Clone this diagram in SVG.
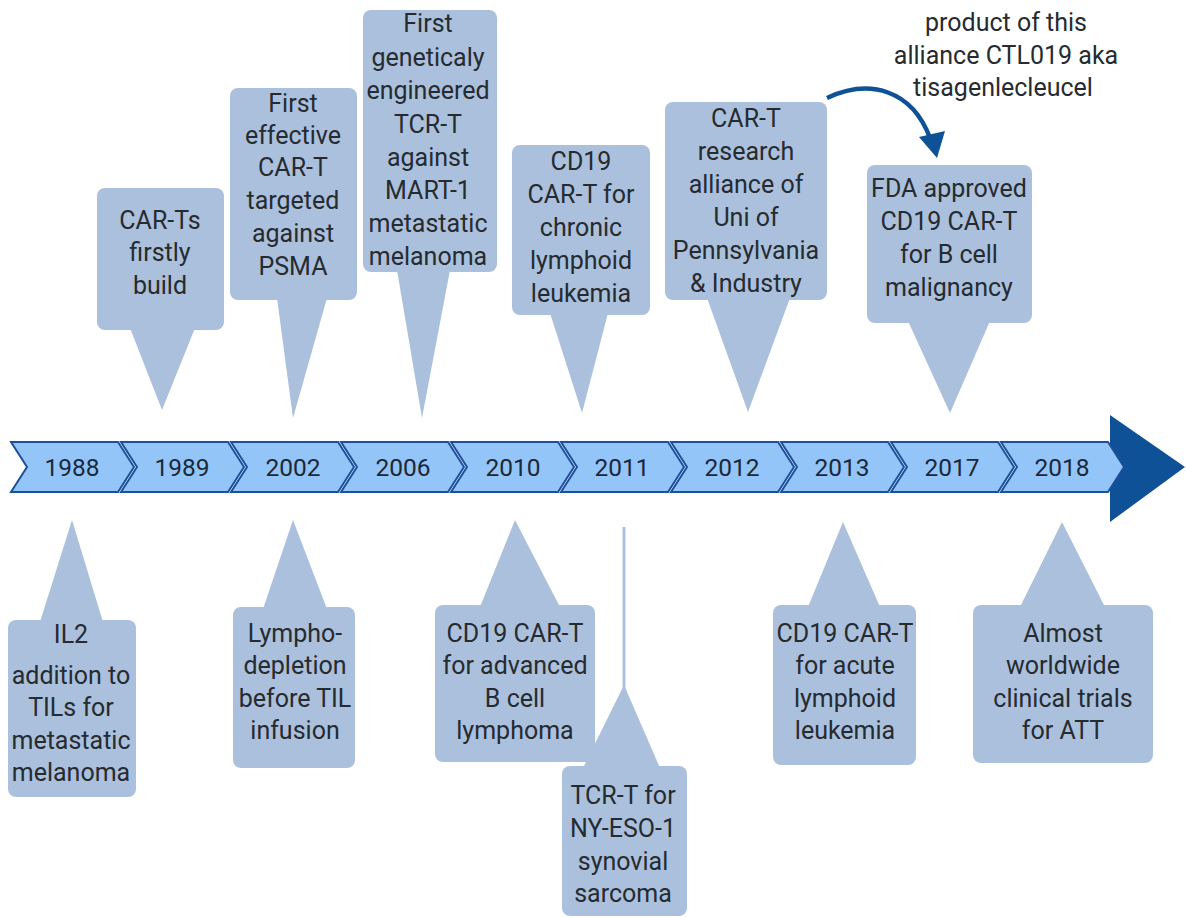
<svg xmlns="http://www.w3.org/2000/svg" width="1186" height="918" viewBox="0 0 1186 918">
<defs>
<style>
.call{fill:#abc0dc}
.t{font-family:Roboto,"Liberation Sans",sans-serif;font-size:25px;fill:#262b30;text-anchor:middle}
.yr{font-family:Roboto,"Liberation Sans",sans-serif;font-size:24.5px;fill:#1c2838;text-anchor:middle}
.chev{fill:#93c5f8;stroke:#1d4f9c;stroke-width:2;stroke-linejoin:miter}
.note{font-family:Roboto,"Liberation Sans",sans-serif;font-size:25px;fill:#262b30;text-anchor:middle}
</style>
</defs>
<rect width="1186" height="918" fill="#ffffff"/>

<g id="timeline">
<polygon points="1110,415 1185,467 1110,522" fill="#0f5196"/>
<polygon class="chev" points="11,442 118,442 134,467 118,492 11,492 27,467"/>
<polygon class="chev" points="121,442 228,442 244,467 228,492 121,492 137,467"/>
<polygon class="chev" points="231,442 338,442 354,467 338,492 231,492 247,467"/>
<polygon class="chev" points="341,442 448,442 464,467 448,492 341,492 357,467"/>
<polygon class="chev" points="451,442 558,442 574,467 558,492 451,492 467,467"/>
<polygon class="chev" points="561,442 668,442 684,467 668,492 561,492 577,467"/>
<polygon class="chev" points="671,442 778,442 794,467 778,492 671,492 687,467"/>
<polygon class="chev" points="781,442 888,442 904,467 888,492 781,492 797,467"/>
<polygon class="chev" points="891,442 998,442 1014,467 998,492 891,492 907,467"/>
<polygon class="chev" points="1001,442 1108,442 1124,467 1108,492 1001,492 1017,467"/>
<text class="yr" x="72" y="476">1988</text>
<text class="yr" x="182" y="476">1989</text>
<text class="yr" x="293" y="476">2002</text>
<text class="yr" x="403" y="476">2006</text>
<text class="yr" x="513" y="476">2010</text>
<text class="yr" x="622" y="476">2011</text>
<text class="yr" x="732" y="476">2012</text>
<text class="yr" x="842" y="476">2013</text>
<text class="yr" x="952" y="476">2017</text>
<text class="yr" x="1062" y="476">2018</text>
</g>

<g id="connectors">
<line x1="624" y1="527" x2="624" y2="690" stroke="#abc0dc" stroke-width="3"/>
<path d="M827,98 C870,78 912,90 930,138" fill="none" stroke="#0f5196" stroke-width="4.5"/>
<polygon points="919,137 945,131 937,158" fill="#0f5196"/>
</g>

<g id="n1989">
<rect class="call" x="97" y="188" width="127" height="142" rx="8"/>
<polygon class="call" points="130,328 195,328 162,410"/>
<text class="t" x="160" y="229">CAR-Ts</text>
<text class="t" x="160" y="261">firstly</text>
<text class="t" x="160" y="294">build</text>
</g>

<g id="n2002top">
<rect class="call" x="230" y="88" width="127" height="212" rx="8"/>
<polygon class="call" points="277,298 327,298 293,418"/>
<text class="t" x="293" y="112">First</text>
<text class="t" x="293" y="144">effective</text>
<text class="t" x="293" y="176">CAR-T</text>
<text class="t" x="293" y="209">targeted</text>
<text class="t" x="293" y="242">against</text>
<text class="t" x="293" y="275">PSMA</text>
</g>

<g id="n2006">
<rect class="call" x="363" y="10" width="134" height="262" rx="8"/>
<polygon class="call" points="397,270 450,270 422,418"/>
<text class="t" x="428" y="32">First</text>
<text class="t" x="428" y="66">geneticaly</text>
<text class="t" x="428" y="99">engineered</text>
<text class="t" x="428" y="133">TCR-T</text>
<text class="t" x="428" y="166">against</text>
<text class="t" x="428" y="199">MART-1</text>
<text class="t" x="428" y="232">metastatic</text>
<text class="t" x="428" y="265">melanoma</text>
</g>

<g id="n2011top">
<rect class="call" x="512" y="145" width="138" height="170" rx="8"/>
<polygon class="call" points="550,313 608,313 582,413"/>
<text class="t" x="581" y="170">CD19</text>
<text class="t" x="581" y="203">CAR-T for</text>
<text class="t" x="581" y="236">chronic</text>
<text class="t" x="581" y="269">lymphoid</text>
<text class="t" x="581" y="302">leukemia</text>
</g>

<g id="n2012">
<rect class="call" x="665" y="102" width="162" height="198" rx="8"/>
<polygon class="call" points="707,298 790,298 748,412"/>
<text class="t" x="746" y="127">CAR-T</text>
<text class="t" x="746" y="160">research</text>
<text class="t" x="746" y="193">alliance of</text>
<text class="t" x="746" y="226">Uni of</text>
<text class="t" x="746" y="259">Pennsylvania</text>
<text class="t" x="746" y="292">&amp; Industry</text>
</g>

<g id="n2017">
<rect class="call" x="867" y="165" width="165" height="158" rx="8"/>
<polygon class="call" points="908,321 990,321 950,413"/>
<text class="t" x="949" y="197">FDA approved</text>
<text class="t" x="949" y="230">CD19 CAR-T</text>
<text class="t" x="949" y="263">for B cell</text>
<text class="t" x="949" y="296">malignancy</text>
</g>

<g id="note">
<text class="note" x="1006" y="31">product of this</text>
<text class="note" x="1006" y="64">alliance CTL019 aka</text>
<text class="note" x="1003" y="96">tisagenlecleucel</text>
</g>

<g id="n1988">
<rect class="call" x="8" y="620" width="128" height="177" rx="8"/>
<polygon class="call" points="40,622 103,622 72,520"/>
<text class="t" x="71" y="643">IL2</text>
<text class="t" x="71" y="684">addition to</text>
<text class="t" x="71" y="716">TILs for</text>
<text class="t" x="71" y="749">metastatic</text>
<text class="t" x="71" y="781">melanoma</text>
</g>

<g id="n2002bottom">
<rect class="call" x="233" y="607" width="122" height="161" rx="8"/>
<polygon class="call" points="263,609 327,609 293,520"/>
<text class="t" x="295" y="642">Lympho-</text>
<text class="t" x="295" y="674">depletion</text>
<text class="t" x="295" y="707">before TIL</text>
<text class="t" x="295" y="739">infusion</text>
</g>

<g id="n2010">
<rect class="call" x="435" y="605" width="160" height="157" rx="8"/>
<polygon class="call" points="480,607 560,607 515,520"/>
<text class="t" x="515" y="642">CD19 CAR-T</text>
<text class="t" x="515" y="674">for advanced</text>
<text class="t" x="515" y="707">B cell</text>
<text class="t" x="515" y="739">lymphoma</text>
</g>

<g id="n2011bottom">
<rect class="call" x="562" y="766" width="125" height="150" rx="8"/>
<polygon class="call" points="583,768 660,768 624,685"/>
<text class="t" x="623" y="804">TCR-T for</text>
<text class="t" x="623" y="837">NY-ESO-1</text>
<text class="t" x="623" y="870">synovial</text>
<text class="t" x="623" y="902">sarcoma</text>
</g>

<g id="n2013">
<rect class="call" x="773" y="605" width="143" height="160" rx="8"/>
<polygon class="call" points="808,607 880,607 843,522"/>
<text class="t" x="845" y="642">CD19 CAR-T</text>
<text class="t" x="845" y="674">for acute</text>
<text class="t" x="845" y="707">lymphoid</text>
<text class="t" x="845" y="739">leukemia</text>
</g>

<g id="n2018">
<rect class="call" x="973" y="605" width="180" height="158" rx="8"/>
<polygon class="call" points="1020,607 1105,607 1062,522"/>
<text class="t" x="1063" y="642">Almost</text>
<text class="t" x="1063" y="674">worldwide</text>
<text class="t" x="1063" y="707">clinical trials</text>
<text class="t" x="1063" y="739">for ATT</text>
</g>
</svg>
